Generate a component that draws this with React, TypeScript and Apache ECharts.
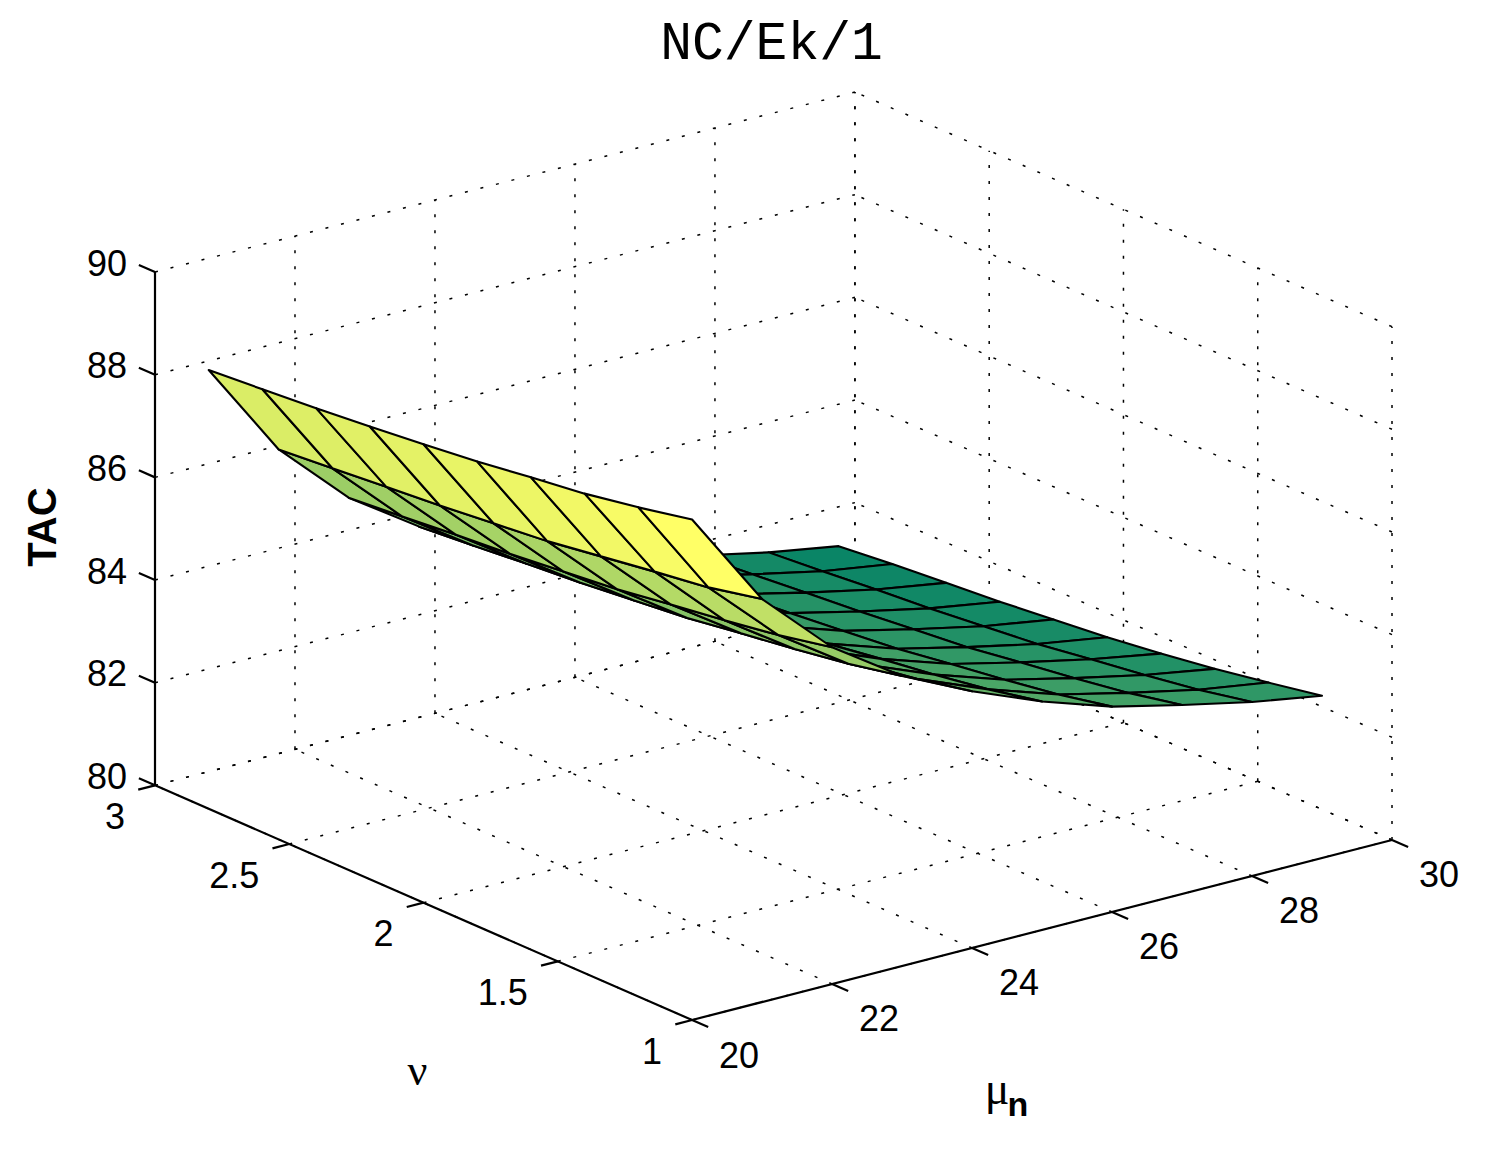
import React, { useEffect, useRef } from "react";
import * as echarts from "echarts";

// ---------------- data ----------------
const muValues = [20, 21, 22, 23, 24, 25, 26, 27, 28, 29];
const nuValues = [1.0, 1.2, 1.4, 1.6, 1.8, 2.0, 2.2, 2.4, 2.6, 2.8];
// TAC rows, one per nu value; columns follow muValues
const tacNu10 = [89.75, 87.85, 86.56, 85.65, 85.0, 84.45, 84.0, 83.68, 83.39, 83.16];
const tacNu12 = [89.53, 87.62, 86.34, 85.43, 84.78, 84.23, 83.78, 83.46, 83.17, 82.96];
const tacNu14 = [89.34, 87.47, 86.17, 85.26, 84.61, 84.06, 83.61, 83.29, 83.0, 82.77];
const tacNu16 = [89.2, 87.31, 86.02, 85.11, 84.46, 83.91, 83.46, 83.14, 82.85, 82.61];
const tacNu18 = [89.05, 87.15, 85.86, 84.95, 84.3, 83.75, 83.3, 82.98, 82.69, 82.47];
const tacNu20 = [88.93, 87.04, 85.75, 84.84, 84.19, 83.64, 83.19, 82.87, 82.58, 82.36];
const tacNu22 = [88.82, 86.93, 85.64, 84.73, 84.08, 83.53, 83.08, 82.76, 82.47, 82.25];
const tacNu24 = [88.72, 86.84, 85.55, 84.64, 83.99, 83.44, 82.99, 82.67, 82.38, 82.16];
const tacNu26 = [88.63, 86.74, 85.45, 84.54, 83.89, 83.34, 82.89, 82.57, 82.28, 82.07];
const tacNu28 = [88.55, 86.65, 85.36, 84.45, 83.8, 83.25, 82.8, 82.48, 82.19, 81.96];

const muTicks = [20, 22, 24, 26, 28, 30];
const nuTicks = [1, 1.5, 2, 2.5, 3];
const tacTicks = [80, 82, 84, 86, 88, 90];
const muRange = [20, 30];
const nuRange = [1, 3];
const tacRange = [80, 90];

const titleText = "NC/Ek/1";
const zName = "TAC";
const nuName = "ν";
const muName = "μ";
const muSub = "n";

// ---------------- view (MATLAB-like az/el) ----------------
const AZ = (37.5 * Math.PI) / 180;
const EL = (19.6 * Math.PI) / 180;
const Z_ASPECT = 0.618;
const U_MIN = -Math.sin(AZ);
const U_MAX = Math.cos(AZ);
const V_MAX = Math.sin(EL) * (Math.sin(AZ) + Math.cos(AZ)) + Math.cos(EL) * Z_ASPECT;

function normalize(mu: number, nu: number, z: number) {
  return [
    (mu - muRange[0]) / (muRange[1] - muRange[0]),
    (nu - nuRange[0]) / (nuRange[1] - nuRange[0]),
    (z - tacRange[0]) / (tacRange[1] - tacRange[0]),
  ];
}
function project(mu: number, nu: number, z: number) {
  const [a, b, c] = normalize(mu, nu, z);
  const h = Math.sin(AZ) * a + Math.cos(AZ) * b;
  return [a * Math.cos(AZ) - b * Math.sin(AZ), Math.sin(EL) * h + Math.cos(EL) * Z_ASPECT * c];
}
function depthOf(mu: number, nu: number) {
  const [a, b] = normalize(mu, nu, tacRange[0]);
  return Math.sin(AZ) * a + Math.cos(AZ) * b;
}
function summer(t: number) {
  const c = Math.max(0, Math.min(1, t));
  return `rgb(${Math.round(255 * c)},${Math.round(255 * (0.5 + 0.5 * c))},102)`;
}

const SANS = "'Liberation Sans', Arial, Helvetica, sans-serif";
const SERIF = "'Liberation Serif', 'DejaVu Serif', serif";

export default function App() {
  const ref = useRef<HTMLDivElement>(null);
  useEffect(() => {
    if (!ref.current) return;
    const chart = echarts.init(ref.current, undefined, { renderer: "svg" });
    const tacGrid = [tacNu10, tacNu12, tacNu14, tacNu16, tacNu18, tacNu20, tacNu22, tacNu24, tacNu26, tacNu28];
    let zMin = Infinity;
    let zMax = -Infinity;
    tacGrid.forEach((row) => row.forEach((v) => { zMin = Math.min(zMin, v); zMax = Math.max(zMax, v); }));

    // faces
    const faces: number[][] = [];
    for (let i = 0; i < nuValues.length - 1; i++) {
      for (let j = 0; j < muValues.length - 1; j++) {
        const mu0 = muValues[j], mu1 = muValues[j + 1];
        const nu0 = nuValues[i], nu1 = nuValues[i + 1];
        faces.push([
          mu0, nu0, mu1, nu1,
          tacGrid[i][j], tacGrid[i][j + 1], tacGrid[i + 1][j + 1], tacGrid[i + 1][j],
          depthOf((mu0 + mu1) / 2, (nu0 + nu1) / 2),
        ]);
      }
    }
    faces.sort((p, q) => q[8] - p[8]);

    // dotted grid on back planes
    const gridSegs: number[][] = [];
    const [m0, m1] = muRange, [n0, n1] = nuRange, [t0, t1] = tacRange;
    tacTicks.forEach((z) => {
      gridSegs.push([m0, n1, z, m1, n1, z]);
      gridSegs.push([m1, n0, z, m1, n1, z]);
    });
    muTicks.forEach((m) => {
      gridSegs.push([m, n1, t0, m, n1, t1]);
      gridSegs.push([m, n0, t0, m, n1, t0]);
    });
    nuTicks.forEach((n) => {
      gridSegs.push([m1, n, t0, m1, n, t1]);
      gridSegs.push([m0, n, t0, m1, n, t0]);
    });

    // solid axes and ticks
    const TICK_NU = 0.06;
    const TICK_MU = 0.24;
    const axisSegs: number[][] = [
      [m0, n1, t0, m0, n1, t1],
      [m0, n0, t0, m0, n1, t0],
      [m0, n0, t0, m1, n0, t0],
    ];
    tacTicks.forEach((z) => axisSegs.push([m0, n1, z, m0, n1 + TICK_NU, z]));
    nuTicks.forEach((n) => axisSegs.push([m0, n, t0, m0 - TICK_MU, n, t0]));
    muTicks.forEach((m) => axisSegs.push([m, n0, t0, m, n0 - TICK_NU, t0]));

    const segRender = (width: number, dash: number[] | null) => (params: any, api: any) => {
      const p1 = api.coord(project(api.value(0), api.value(1), api.value(2)));
      const p2 = api.coord(project(api.value(3), api.value(4), api.value(5)));
      return {
        type: "line",
        shape: { x1: p1[0], y1: p1[1], x2: p2[0], y2: p2[1] },
        style: { stroke: "#000", lineWidth: width, lineDash: dash || undefined, lineCap: "butt" },
      };
    };

    const labelRender = (dx: number, dy: number, align: string) => (params: any, api: any) => {
      const p = api.coord(project(api.value(0), api.value(1), api.value(2)));
      return {
        type: "text",
        x: p[0] + dx,
        y: p[1] + dy,
        style: {
          text: String(api.value(3)),
          fill: "#000",
          fontSize: 36,
          fontFamily: SANS,
          align,
          textAlign: align,
          verticalAlign: "middle",
          textVerticalAlign: "middle",
        },
      };
    };

    const option: any = {
      animation: false,
      backgroundColor: "#fff",
      grid: { left: 155, right: 105, top: 92, bottom: 131 },
      xAxis: { type: "value", min: U_MIN, max: U_MAX, show: false },
      yAxis: { type: "value", min: 0, max: V_MAX, show: false },
      graphic: [
        {
          type: "text", x: 771.5, y: 45,
          style: { text: titleText, fontSize: 53, fontFamily: "'Liberation Mono', 'Courier New', monospace", fill: "#000", align: "center", verticalAlign: "middle", textAlign: "center", textVerticalAlign: "middle" },
        },
        {
          type: "text", x: 42, y: 527, rotation: Math.PI / 2,
          style: { text: zName, fontSize: 40, fontWeight: "bold", fontFamily: SANS, fill: "#000", align: "center", verticalAlign: "middle", textAlign: "center", textVerticalAlign: "middle" },
        },
        {
          type: "text", x: 417.5, y: 1070,
          style: { text: nuName, fontSize: 44, fontFamily: SERIF, fill: "#000", align: "center", verticalAlign: "middle", textAlign: "center", textVerticalAlign: "middle" },
        },
        {
          type: "text", x: 997, y: 1088,
          style: { text: muName, fontSize: 46, fontFamily: SERIF, fill: "#000", align: "center", verticalAlign: "middle", textAlign: "center", textVerticalAlign: "middle" },
        },
        {
          type: "text", x: 1018, y: 1104,
          style: { text: muSub, fontSize: 34, fontWeight: "bold", fontFamily: SANS, fill: "#000", align: "center", verticalAlign: "middle", textAlign: "center", textVerticalAlign: "middle" },
        },
      ],
      series: [
        {
          type: "custom", coordinateSystem: "cartesian2d", z: 1, clip: false, silent: true,
          data: gridSegs, renderItem: segRender(1.5, [3, 13]),
        },
        {
          type: "custom", coordinateSystem: "cartesian2d", z: 2, clip: false, silent: true,
          data: faces,
          renderItem: (params: any, api: any) => {
            const mu0 = api.value(0), nu0 = api.value(1), mu1 = api.value(2), nu1 = api.value(3);
            const pts = [
              api.coord(project(mu0, nu0, api.value(4))),
              api.coord(project(mu1, nu0, api.value(5))),
              api.coord(project(mu1, nu1, api.value(6))),
              api.coord(project(mu0, nu1, api.value(7))),
            ];
            return {
              type: "polygon",
              shape: { points: pts },
              style: { fill: summer((api.value(4) - zMin) / (zMax - zMin)), stroke: "#000", lineWidth: 2.1, lineJoin: "round" },
            };
          },
        },
        {
          type: "custom", coordinateSystem: "cartesian2d", z: 3, clip: false, silent: true,
          data: axisSegs, renderItem: segRender(2.2, null),
        },
        {
          type: "custom", coordinateSystem: "cartesian2d", z: 4, clip: false, silent: true,
          data: tacTicks.map((z) => [m0, n1, z, z]), renderItem: labelRender(-28, -9, "right"),
        },
        {
          type: "custom", coordinateSystem: "cartesian2d", z: 4, clip: false, silent: true,
          data: nuTicks.map((n) => [m0, n, t0, n]), renderItem: labelRender(-30, 31, "right"),
        },
        {
          type: "custom", coordinateSystem: "cartesian2d", z: 4, clip: false, silent: true,
          data: muTicks.map((m) => [m, n0, t0, m]), renderItem: labelRender(27, 35, "left"),
        },
      ],
    };
    chart.setOption(option);
    return () => chart.dispose();
  }, []);
  return (
    <div
      ref={ref}
      style={{ position: "absolute", left: 0, top: 0, width: 1497, height: 1151, background: "#fff" }}
    />
  );
}
